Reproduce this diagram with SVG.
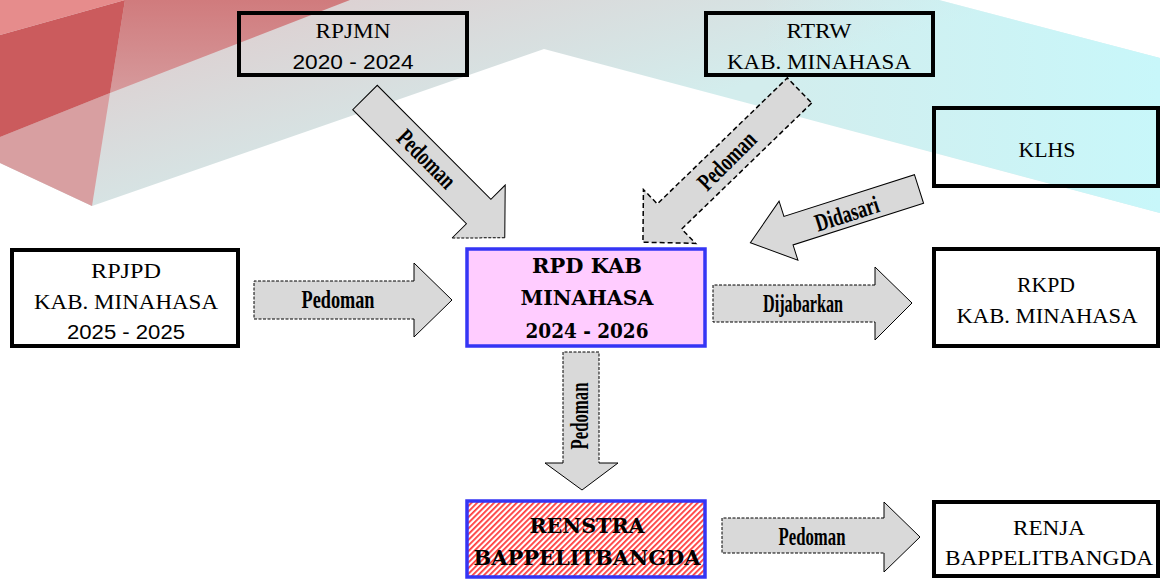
<svg xmlns="http://www.w3.org/2000/svg" width="1160" height="579" viewBox="0 0 1160 579">
<style>
.box{fill:none;stroke:#000;stroke-width:4}
.wbox{fill:#fff;stroke:#000;stroke-width:4}
.t{font-family:"Liberation Serif",serif;font-size:21px;fill:#000;text-anchor:middle}
.n{font-family:"Liberation Sans",sans-serif;font-size:20px;fill:#000;text-anchor:middle}
.b{font-family:"DejaVu Serif",serif;font-weight:bold;font-size:20px;fill:#000;text-anchor:middle}
.lbl{font-family:"Liberation Serif",serif;font-weight:bold;font-size:25px;fill:#000;text-anchor:middle}
.af{fill:#d9d9d9;stroke:none}
.ds{fill:none;stroke:#000;stroke-width:1;stroke-dasharray:3 1.5}
.ss{fill:none;stroke:#000;stroke-width:1}
</style>
<defs>
<linearGradient id="band" gradientUnits="userSpaceOnUse" x1="300" y1="0" x2="360" y2="200">
<stop offset="0" stop-color="#ddd0d1"/>
<stop offset="1" stop-color="#d3eded"/>
</linearGradient>
<linearGradient id="cy" gradientUnits="userSpaceOnUse" x1="760" y1="0" x2="1160" y2="0">
<stop offset="0" stop-color="#c8f7fa" stop-opacity="0"/>
<stop offset="1" stop-color="#c8f7fa" stop-opacity="1"/>
</linearGradient>
<linearGradient id="pk" x1="0" y1="0" x2="0" y2="1">
<stop offset="0" stop-color="#d07b7d"/>
<stop offset="1" stop-color="#d69a9c"/>
</linearGradient>
<pattern id="hatch" width="4" height="4" patternUnits="userSpaceOnUse" patternTransform="rotate(45)">
<rect width="4" height="4" fill="#fff"/>
<rect width="1.8" height="4" fill="#ff3b3b"/>
</pattern>
</defs>

<g id="background">
<polygon points="0,0 939,0 1160,58 1160,213 544,49 92,206 0,163" fill="url(#band)"/>
<polygon points="760,0 939,0 1160,58 1160,213 760,106" fill="url(#cy)"/>
<polygon points="125,0 350,0 110,93" fill="url(#pk)"/>
<polygon points="0,137 110,93 92,206 0,163" fill="#d89fa1"/>
<polygon points="0,35 125,0 110,93 0,137" fill="#cb5b5d"/>
<polygon points="0,0 125,0 0,35" fill="#e68c8c"/>
</g>

<g id="connectors">
<g id="a-rpjmn">
<g transform="translate(365,97.5) rotate(45.1)">
<path class="af" d="M0,-17.3 H161 V-37.5 L198,0 L161,37.5 V17.3 H0 Z"/>
<path class="ss" d="M161,37.5 V17.3 H0 V-17.3 H161 V-37.5 L198,0"/>
<path class="ds" d="M198,0 L161,37.5"/>
<text class="lbl" x="87" y="8" textLength="72" lengthAdjust="spacingAndGlyphs">Pedoman</text>
</g>
</g>
<g id="a-rtrw">
<g transform="translate(799.5,90.5) rotate(135.9)">
<path class="af" d="M0,-17.5 H181 V-37.5 L218,0 L181,37.5 V17.5 H0 Z"/>
<path d="M0,-17.5 H181 V-37.5 L218,0 L181,37.5 V17.5 H0 Z" fill="none" stroke="#000" stroke-width="1.5" stroke-dasharray="5 3"/>
</g>
<text class="lbl" transform="translate(727,161) rotate(-45)" x="0" y="8" textLength="72" lengthAdjust="spacingAndGlyphs">Pedoman</text>
</g>
<g id="a-klhs">
<g transform="translate(919,189) rotate(162.3)">
<path class="af" d="M0,-15 H137 V-31 L177,0 L137,31 V15 H0 Z"/>
<path class="ss" d="M0,-15 H137 V-31 L177,0 L137,31 V15 H0 Z"/>
</g>
<text class="lbl" transform="translate(847,214) rotate(-17.7)" x="0" y="8" textLength="66" lengthAdjust="spacingAndGlyphs">Didasari</text>
</g>
<g id="a-rpjpd">
<path class="af" d="M254,281 H414 V263 L452,300 L414,337 V319 H254 Z"/>
<path class="ds" d="M414,281 H254 V319 H414"/>
<path class="ss" d="M414,281 V263 L452,300 L414,337 V319"/>
<text class="lbl" x="338" y="308" textLength="73" lengthAdjust="spacingAndGlyphs">Pedoman</text>
</g>
<g id="a-rkpd">
<path class="af" d="M713,285 H875 V267 L912,303 L875,340 V322 H713 Z"/>
<path class="ds" d="M875,285 H713 V322 H875"/>
<path class="ss" d="M875,285 V267 L912,303 L875,340 V322"/>
<text class="lbl" x="803" y="312" textLength="80" lengthAdjust="spacingAndGlyphs">Dijabarkan</text>
</g>
<g id="a-renstra">
<path class="af" d="M563,352 V463 H545 L582,490 L618,463 H599 V352 Z"/>
<path class="ds" d="M563,463 V352 H599 V463"/>
<path class="ss" d="M563,463 H545 L582,490 L618,463 H599"/>
<text class="lbl" transform="translate(580,416) rotate(-90)" x="0" y="8" textLength="67" lengthAdjust="spacingAndGlyphs">Pedoman</text>
</g>
<g id="a-renja">
<path class="af" d="M722,518 H884 V502 L920,537 L884,572 V553 H722 Z"/>
<path class="ds" d="M884,518 H722 V553 H884"/>
<path class="ss" d="M884,518 V502 L920,537 L884,572 V553"/>
<text class="lbl" x="812" y="545" textLength="67" lengthAdjust="spacingAndGlyphs">Pedoman</text>
</g>
</g>

<g id="rpjmn">
<rect class="box" x="239" y="13" width="228" height="62"/>
<text class="t" x="353" y="38" textLength="75" lengthAdjust="spacingAndGlyphs">RPJMN</text>
<text class="n" x="353" y="69" textLength="121" lengthAdjust="spacingAndGlyphs">2020 - 2024</text>
</g>
<g id="rtrw">
<rect class="box" x="706" y="13" width="227" height="62"/>
<text class="t" x="819" y="38" textLength="65" lengthAdjust="spacingAndGlyphs">RTRW</text>
<text class="t" x="819" y="69" textLength="184" lengthAdjust="spacingAndGlyphs">KAB. MINAHASA</text>
</g>
<g id="klhs">
<rect class="box" x="934" y="108" width="224" height="78"/>
<text class="t" x="1047" y="157" textLength="57" lengthAdjust="spacingAndGlyphs">KLHS</text>
</g>
<g id="rpjpd">
<rect class="wbox" x="12" y="250" width="226" height="96"/>
<text class="t" x="126" y="278" textLength="70" lengthAdjust="spacingAndGlyphs">RPJPD</text>
<text class="t" x="126" y="309" textLength="184" lengthAdjust="spacingAndGlyphs">KAB. MINAHASA</text>
<text class="n" x="126" y="339" textLength="118" lengthAdjust="spacingAndGlyphs">2025 - 2025</text>
</g>
<g id="rpd">
<rect x="467" y="249" width="238" height="97" fill="#ffccff" stroke="#3535f5" stroke-width="3.5"/>
<text class="b" x="587" y="273" textLength="110" lengthAdjust="spacingAndGlyphs">RPD KAB</text>
<text class="b" x="587" y="305" textLength="133" lengthAdjust="spacingAndGlyphs">MINAHASA</text>
<text class="b" x="587" y="338" textLength="123" lengthAdjust="spacingAndGlyphs">2024 - 2026</text>
</g>
<g id="rkpd">
<rect class="wbox" x="934" y="249" width="224" height="97"/>
<text class="t" x="1046" y="292" textLength="58" lengthAdjust="spacingAndGlyphs">RKPD</text>
<text class="t" x="1047" y="323" textLength="181" lengthAdjust="spacingAndGlyphs">KAB. MINAHASA</text>
</g>
<g id="renstra">
<rect x="467" y="501" width="238" height="76" fill="url(#hatch)" stroke="#3535f5" stroke-width="3.5"/>
<text class="b" x="587" y="533" textLength="115" lengthAdjust="spacingAndGlyphs">RENSTRA</text>
<text class="b" x="587" y="565" textLength="227" lengthAdjust="spacingAndGlyphs">BAPPELITBANGDA</text>
</g>
<g id="renja">
<rect class="wbox" x="934" y="502" width="224" height="74"/>
<text class="t" x="1049" y="535" textLength="72" lengthAdjust="spacingAndGlyphs">RENJA</text>
<text class="t" x="1049" y="565" textLength="208" lengthAdjust="spacingAndGlyphs">BAPPELITBANGDA</text>
</g>
</svg>
